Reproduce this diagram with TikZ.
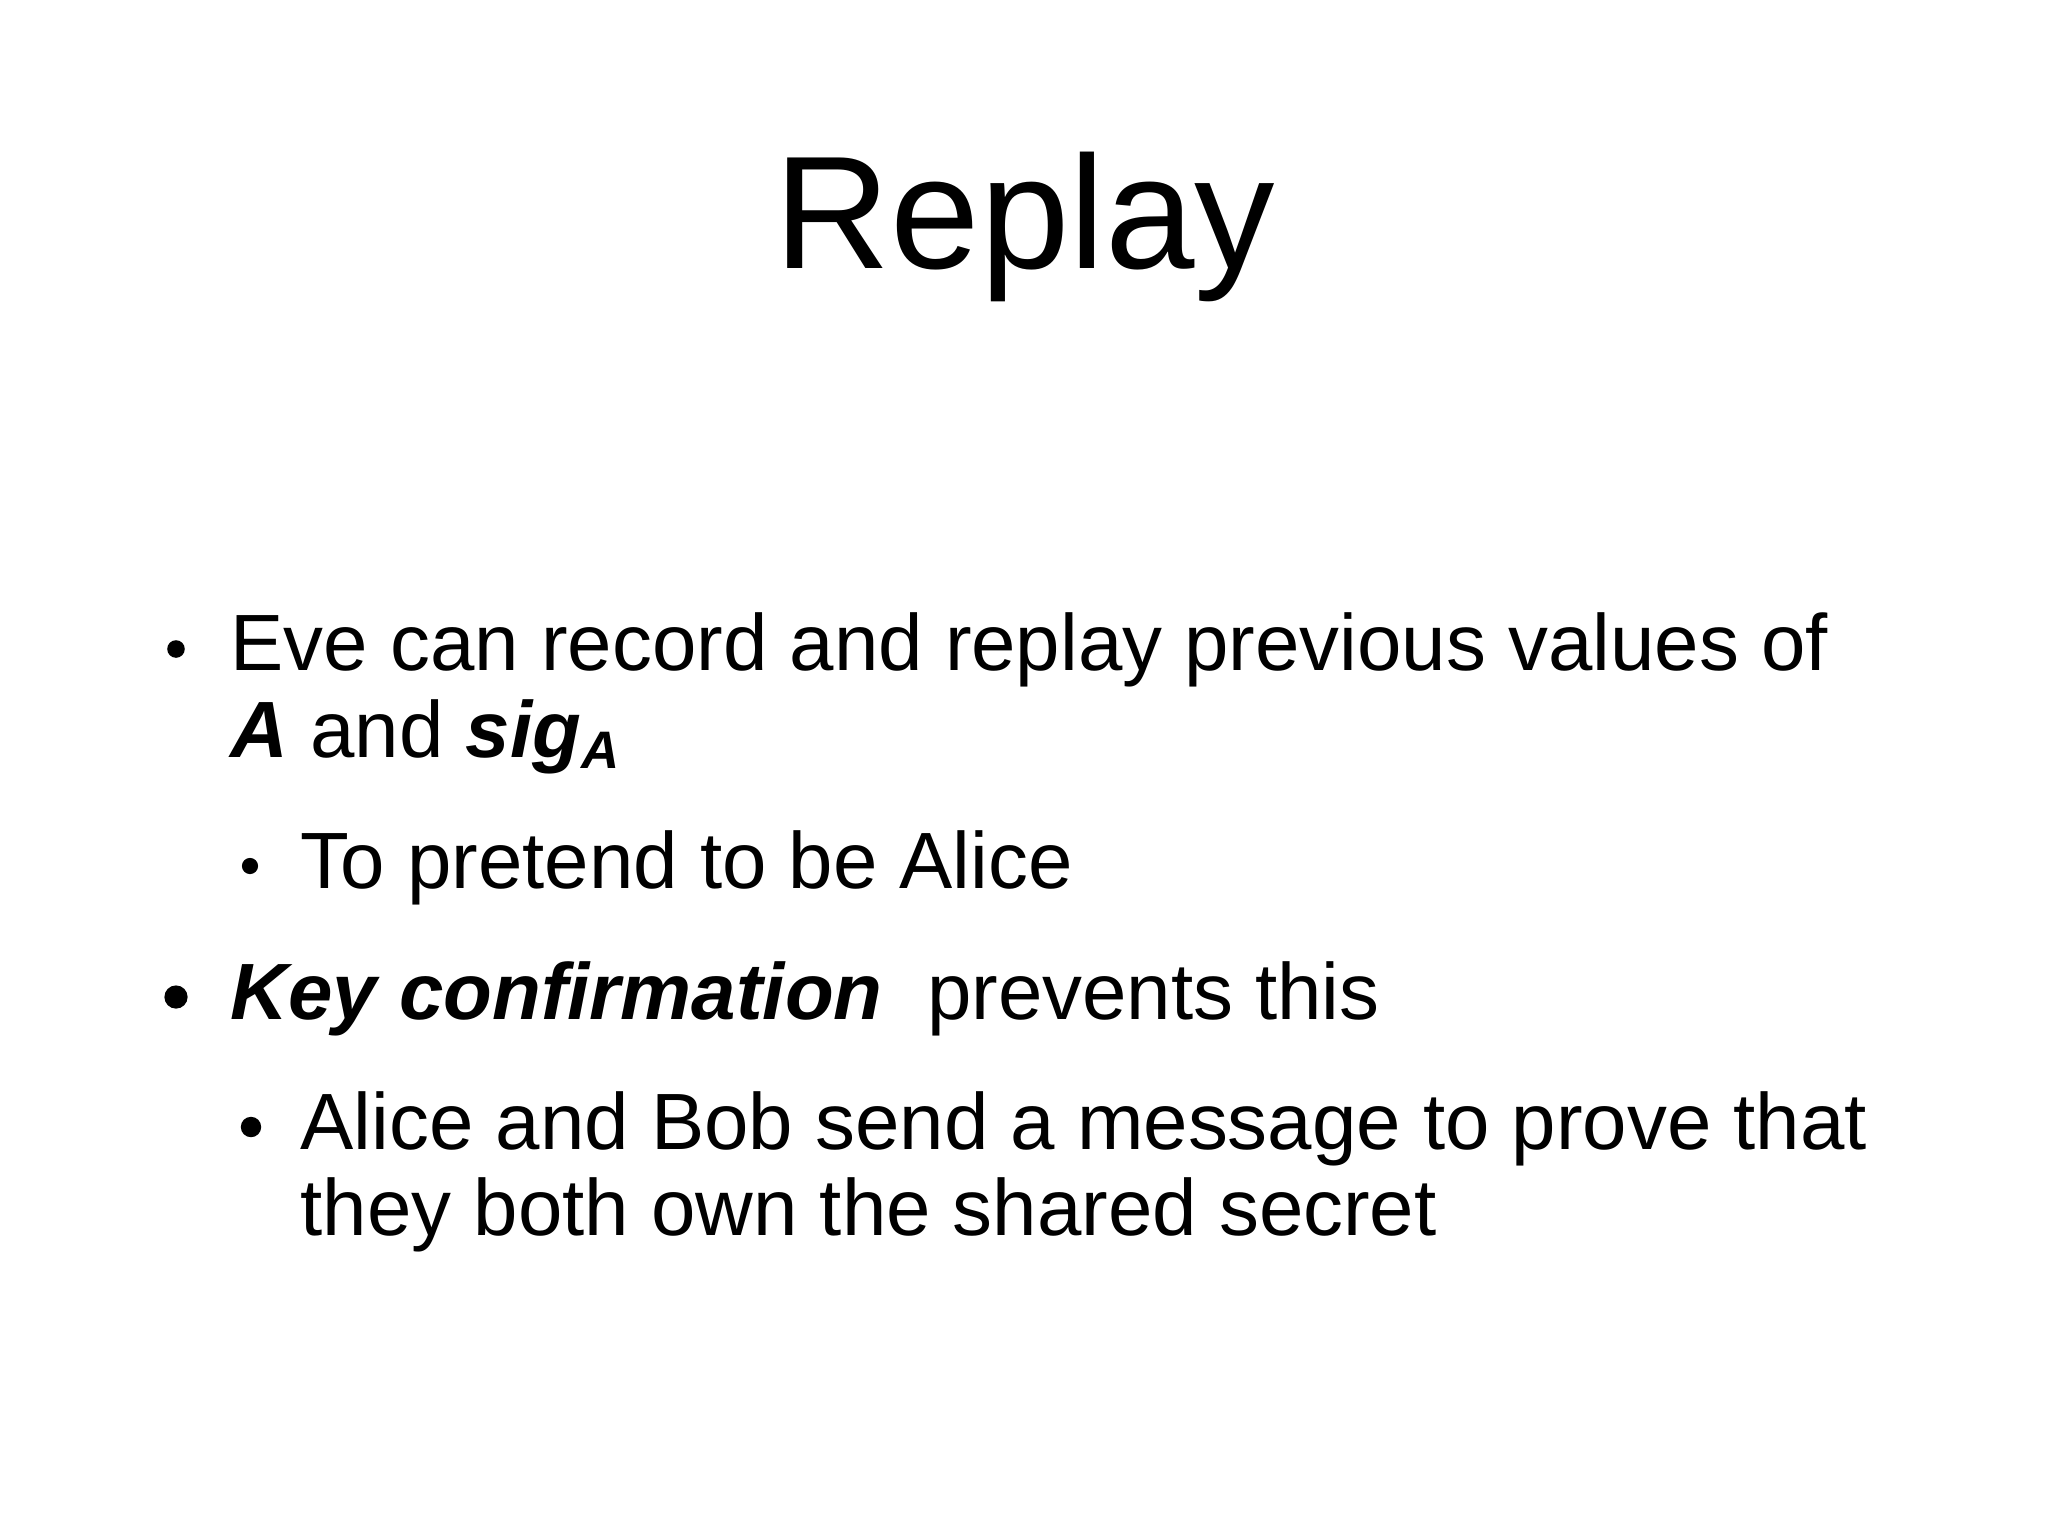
\documentclass[tikz,border=0pt]{standalone}
\usepackage{fontspec}
\setmainfont{Liberation Sans}
\begin{document}
\begin{tikzpicture}[x=0.01cm,y=-0.01cm,
  txt/.style={anchor=base west,inner sep=0pt,font=\fontsize{22.7}{27}\selectfont},
  dot/.style={circle,fill=black,inner sep=0pt,minimum size=#1}]
\useasboundingbox (0,0) rectangle (2048,1536);
\node[anchor=base,inner sep=0pt,font=\fontsize{45.7}{54}\selectfont] (title) at (1025,268) {Replay};
\node[dot=5pt] (b1) at (176,649) {};
\node[txt] (t1) at (230,670) {Eve can record and replay previous values of};
\node[txt] (t2) at (230,757) {\textbf{\textit{A}} and \textbf{\textit{sig}}$_{\textbf{\textit{\fontsize{15}{18}\selectfont A}}}$};
\node[dot=4.6pt] (b2) at (250,866) {};
\node[txt] (t3) at (300,888) {To pretend to be Alice};
\node[dot=6.6pt] (b3) at (176,997) {};
\node[txt] (t4) at (230,1019) {\textbf{\textit{Key confirmation}}\ \ prevents this};
\node[dot=5.8pt] (b4) at (251,1127) {};
\node[txt] (t5) at (300,1149) {Alice and Bob send a message to prove that};
\node[txt] (t6) at (300,1235) {they both own the shared secret};
\end{tikzpicture}
\end{document}
